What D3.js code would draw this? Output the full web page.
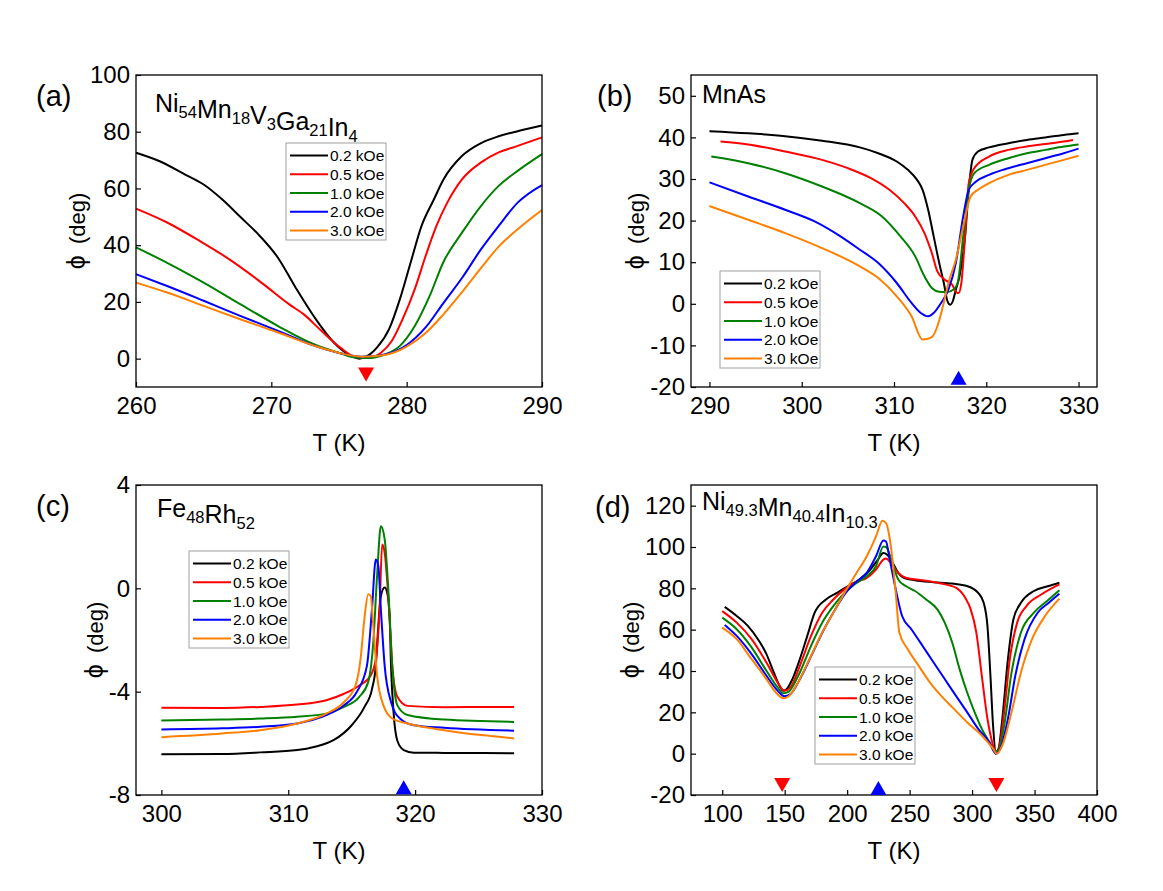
<!DOCTYPE html>
<html>
<head>
<meta charset="utf-8">
<script src="https://cdn.jsdelivr.net/npm/d3@7"></script>
<style>
body { margin: 0; background: #fff; }
text { font-family: "Liberation Sans", Arial, sans-serif; fill: #000; }
</style>
</head>
<body>
<svg id="chart" width="1163" height="891"></svg>
<script>
// field labels + colours, same for every panel
var fields = ["0.2 kOe", "0.5 kOe", "1.0 kOe", "2.0 kOe", "3.0 kOe"];
var colors = ["#000000", "#ff0000", "#008000", "#0000ff", "#ff8000"];

// (a) Ni54Mn18V3Ga21In4 : [T (K), phi (deg)]
var phiA = [
	[[260,72.6],[261.75,69.6],[263.6,65],[265,61.4],[266.4,56],[267.7,50],[269.1,43.5],[270.5,35.5],[271.8,25],[273.2,14.5],[274.6,5.8],[275.7,1.5],[276.5,0],[277,0.7],[277.8,3.9],[278.7,10.4],[279.5,21],[280.3,34],[281.1,46.8],[282,56],[282.7,63],[284.1,71.5],[285.5,76],[286.8,78.4],[288.2,80.2],[290,82.2]],
	[[260,52.9],[262.3,48],[264.7,41.5],[266.9,35],[269.1,27.4],[270.2,23.3],[271.3,19.2],[272.4,15.6],[273.7,9.8],[275.1,3.9],[276.2,0.7],[277.3,0.4],[278.1,2.1],[278.9,6.2],[279.7,13.9],[280.6,24.5],[281.4,36.2],[282.2,46.8],[283,55],[284.1,63.3],[285.5,69.2],[286.8,72.7],[288.2,75],[290,78]],
	[[260,39.2],[262.3,33.8],[265,26.8],[267.7,19.2],[270.5,11.5],[273.2,5],[275.1,1.9],[276.2,0.4],[277.3,0.2],[278.4,1.5],[279.5,4.5],[280.6,11.5],[281.7,22.1],[282.7,33.9],[284.1,44.5],[285.5,53.9],[286.8,60.9],[288.2,66.2],[290,72.1]],
	[[260,29.8],[262.3,25.6],[265,20.4],[267.7,15.1],[270.5,9.8],[273.2,4.5],[275.1,1.9],[276.7,0.7],[278.4,1.5],[280,4.8],[281.4,11],[282.7,19.5],[284.1,28.5],[285.5,38.6],[286.8,46.8],[288.2,55],[290,61.2]],
	[[260,26.8],[262.3,23.3],[265,18.6],[267.7,13.9],[270.5,9.2],[273.2,4.5],[275.1,1.9],[276.7,0.7],[278.4,1.3],[280,4.2],[281.4,9],[282.7,15.5],[284.1,23.5],[285.5,32],[286.8,39.5],[288.2,45.6],[290,52.4]]
];

// (b) MnAs
var phiB = [
	[[290,41.5],[294.2,41],[298.2,40.3],[302.2,39.2],[306.3,37.6],[308.3,36.2],[310.3,34.2],[311.5,32.2],[312.5,29.8],[313.1,27.4],[313.7,22.6],[314.3,16.2],[314.9,9.8],[315.4,5],[315.8,0.6],[316.1,-0.2],[316.4,0.8],[316.7,3.4],[317.1,6.6],[317.7,16.2],[318.1,27.4],[318.5,34.6],[319.1,36.6],[320.3,37.6],[322.4,38.6],[324.4,39.4],[326.4,40],[328.4,40.6],[330,41]],
	[[291.2,39],[294.2,38.3],[298.2,36.6],[302.2,34.6],[305,32.6],[307.5,30.2],[309.5,27.4],[311.1,24.2],[312.3,21],[313.3,17],[314.1,12.2],[314.7,7.8],[315.5,5.8],[316.3,4.6],[316.8,2.7],[317,2.6],[317.3,5],[317.7,16.2],[318.1,29],[318.7,32.6],[320.3,35.4],[322.4,37],[324.4,37.8],[326.4,38.4],[328.4,39],[329.4,39.4]],
	[[290.2,35.4],[294.2,33.8],[298.2,31.4],[302.2,28.2],[306.3,24.2],[308.7,21],[310.7,16.2],[312.3,11.4],[313.3,6.6],[314.1,3.8],[314.9,2.9],[315.7,2.8],[316.5,3.5],[316.9,5],[317.5,16.2],[318.1,27.4],[318.7,31.4],[320.3,33.4],[322.4,35],[324.4,36.2],[326.4,37],[328.4,37.8],[330,38.3]],
	[[290,29.2],[294.2,25.8],[298.2,22.6],[301.4,19.8],[304.2,16.2],[306.3,13],[308.3,9.8],[310.3,5],[311.9,0.2],[312.9,-2.2],[313.7,-3],[314.3,-2.2],[315.1,0.2],[315.9,3.4],[316.7,9.8],[317.5,21],[318.1,27.4],[318.9,29.4],[320.3,31],[322.4,32.6],[324.4,33.8],[326.4,35],[328.4,36.2],[330,37.3]],
	[[290,23.5],[294.2,20.2],[298.2,17],[302.2,13.4],[306.3,9],[308.3,6.2],[310.3,1.8],[311.9,-3],[313.1,-8.6],[314.1,-8],[314.7,-5.4],[315.3,-0.6],[315.9,5],[316.7,10.6],[317.5,18.6],[318.3,25.8],[319.1,27.4],[320.3,29],[322.4,31],[324.4,32.2],[326.4,33.4],[328.4,34.6],[330,35.6]]
];

// (c) Fe48Rh52
var phiC = [
	[[300,-6.42],[304.8,-6.41],[307.8,-6.35],[310.7,-6.26],[312.1,-6.13],[313.6,-5.87],[315,-5.3],[316,-4.6],[316.6,-3.9],[316.9,-3],[317.1,-1.45],[317.3,-0.3],[317.6,0.03],[317.8,-0.17],[318,-1.2],[318.1,-3],[318.3,-4.8],[318.6,-5.9],[319.1,-6.26],[319.9,-6.36],[322.3,-6.37],[327.8,-6.38]],
	[[300,-4.62],[304.8,-4.63],[307.8,-4.59],[310.7,-4.5],[313,-4.33],[314.4,-4.08],[315.6,-3.76],[316.5,-3.37],[316.9,-2.73],[317.2,-0.8],[317.4,1.7],[317.6,1.37],[317.9,-0.42],[318.2,-3],[318.6,-4.2],[319.4,-4.55],[322.3,-4.6],[327.8,-4.59]],
	[[300,-5.12],[304.8,-5.08],[307.8,-5.04],[310.7,-4.97],[313,-4.85],[314.4,-4.59],[315.6,-4.2],[316.3,-3.63],[316.7,-2.1],[317,0.47],[317.3,2.4],[317.6,1.9],[317.9,-0.17],[318.2,-3],[318.6,-4.53],[319.4,-4.9],[322.3,-5.08],[327.8,-5.17]],
	[[300,-5.46],[304.8,-5.42],[307.8,-5.36],[310.7,-5.23],[313,-4.91],[314.4,-4.53],[315.4,-4.01],[316.2,-3],[316.6,-0.8],[316.9,1.12],[317.1,0.86],[317.3,-0.8],[317.6,-3],[318.1,-4.4],[318.8,-5.04],[319.9,-5.3],[322.3,-5.4],[327.8,-5.51]],
	[[300,-5.76],[304.8,-5.62],[307.8,-5.49],[310.7,-5.23],[313,-4.85],[314.4,-4.4],[315.3,-3.76],[315.7,-2.73],[316,-1.19],[316.3,-0.23],[316.5,-0.29],[316.7,-1.45],[317,-3.37],[317.5,-4.53],[318.2,-5.04],[319.4,-5.23],[322.3,-5.49],[325.2,-5.68],[327.8,-5.81]]
];

// (d) Ni49.3Mn40.4In10.3
var phiD = [
	[[102,71],[111.6,66.6],[120.5,61.8],[129.4,54.6],[135.4,48.2],[141.3,39.3],[145.8,32.9],[148.8,30.5],[151.7,31.3],[156.2,36.1],[162.1,45.7],[168.1,57],[174,68.2],[183,74.6],[191.9,77.8],[200.8,81.1],[209.7,84.3],[218.6,89.1],[224.6,93.9],[229,97.1],[232,96.3],[236.5,92.3],[240.9,87.5],[245.4,85.1],[254.3,83.9],[269.2,83],[284.1,82.3],[296,81.1],[304.9,77.8],[309.3,73],[312.3,61.8],[314.7,37.7],[316.8,13.6],[319.1,0.8],[321.2,2.4],[324.2,16.9],[328.7,45.7],[333.1,65],[339.1,73],[349.5,78.7],[361.4,81.1],[369.9,82.7]],
	[[100,69],[111.6,63.4],[123.5,55.4],[135.4,44.1],[144.3,34.5],[149.6,30.5],[154.7,32.1],[162.1,42.5],[171.1,57],[180,68.2],[188.9,74.6],[197.8,79.5],[206.7,83],[215.7,85.1],[223.1,89.1],[229,93.9],[231.1,94.4],[235,92.3],[240.9,87.5],[246.9,85.1],[260.3,83.9],[275.1,82.3],[287,80.3],[294.5,75.4],[298.9,69.8],[303.4,58.6],[307.8,37.7],[312.3,16.9],[316.8,4],[319.1,0],[322.1,4],[325.7,20.1],[330.2,45.7],[336.1,63.4],[343.5,71.4],[355.4,77],[369.9,81.9]],
	[[100,65.8],[111.6,60.2],[123.5,51.4],[135.4,40.1],[144.3,32.1],[148.8,29.2],[153.2,30],[162.1,39.3],[171.1,52.2],[180,63.4],[188.9,71.4],[197.8,77.8],[206.7,82.3],[215.7,85.9],[223.1,90.7],[229,100.3],[231.1,100],[235,94.7],[240.9,84.3],[246.9,81.1],[254.3,78.7],[263.2,74.6],[272.2,69.8],[278.1,63.4],[284.1,53.8],[290,40.9],[296,29.7],[302,20.1],[307.8,12],[313.8,5.6],[318.3,0.8],[321.2,1.6],[325.7,13.6],[331.6,39.3],[339.1,58.6],[349.5,68.2],[361.4,74.6],[369.9,79.1]],
	[[102,62.3],[111.6,57],[123.5,48.2],[135.4,37.7],[144.3,30.5],[149.6,27.8],[154.7,28.9],[163.6,37.7],[172.6,49],[181.5,60.2],[190.4,69.8],[197.8,77],[206.7,82.7],[215.7,87.5],[223.1,95.5],[229,103.2],[231.1,102.7],[234.1,93.9],[239.5,77.8],[244,66.6],[251.4,60.2],[260.3,52.2],[269.2,44.1],[278.1,36.1],[287,28.1],[296,20.1],[304.9,12],[313.8,5.6],[319.1,0],[322.7,2.4],[328.7,16.9],[334.6,37.7],[342,55.4],[352.5,68.2],[361.4,73],[369.9,77.4]],
	[[100,61],[111.6,55.4],[123.5,45.7],[135.4,36.1],[142.8,29.7],[148.8,26.8],[153.2,27.8],[162.1,36.1],[171.1,47.4],[180,58.6],[188.9,68.2],[197.8,77.8],[206.7,86.7],[215.7,95.5],[223.1,105.1],[228.2,112.7],[231.1,111.6],[235,100.3],[238.9,77.8],[241.8,58.6],[248.4,50.6],[257.3,42.5],[266.2,34.5],[275.1,28.1],[284.1,22.5],[296,15.2],[307.8,8.8],[316.8,2.4],[319.7,0],[324.2,4],[331.6,20.1],[339.1,39.3],[348,55.4],[358.4,66.6],[369.9,75]]
];

// transition markers: [T, phi]
var downA = [[277, -5.6]];
var upB = [[317, -17.8]];
var upC = [[319.1, -7.7]];
var downD = [[148, -15.2], [319.5, -15.2]];
var upD = [[225, -16.6]];

var svg = d3.select("#chart");

function fmt(d) { return String(d); }

function drawPanel(p) {
	var x = d3.scaleLinear().domain(p.xDom).range([p.box[0], p.box[2]]);
	var y = d3.scaleLinear().domain(p.yDom).range([p.box[3], p.box[1]]);
	var g = svg.append("g");

	// curves
	var line = d3.line().x(function(d) { return x(d[0]); }).y(function(d) { return y(d[1]); })
		.curve(d3.curveMonotoneX);
	g.selectAll("path.curve").data(p.series).enter().append("path")
		.attr("class", "curve")
		.attr("d", line)
		.attr("fill", "none")
		.attr("stroke", function(d, i) { return colors[i]; })
		.attr("stroke-width", 2)
		.attr("stroke-linejoin", "round");

	// axes, ticks inward
	var xa = g.append("g").attr("transform", "translate(0," + p.box[3] + ")");
	xa.call(d3.axisBottom(x).tickValues(p.xMinor).tickSize(-3).tickFormat(""));
	xa.call(d3.axisBottom(x).tickValues(p.xTicks).tickSize(-5).tickPadding(10).tickFormat(fmt));
	var ya = g.append("g").attr("transform", "translate(" + p.box[0] + ",0)");
	ya.call(d3.axisLeft(y).tickValues(p.yMinor).tickSize(-3).tickFormat(""));
	ya.call(d3.axisLeft(y).tickValues(p.yTicks).tickSize(-5).tickPadding(6).tickFormat(fmt));
	g.selectAll(".domain").remove();
	g.selectAll(".tick line").attr("stroke", "#000").attr("stroke-width", 1.2);
	g.selectAll(".tick text").style("font-size", "24px").style("font-family", "Liberation Sans, Arial, sans-serif").attr("fill", "#000");

	// frame
	g.append("rect")
		.attr("x", p.box[0]).attr("y", p.box[1])
		.attr("width", p.box[2] - p.box[0]).attr("height", p.box[3] - p.box[1])
		.attr("fill", "none").attr("stroke", "#000").attr("stroke-width", 1.3);

	// markers
	var tri = 8;
	function triPath(d, up) {
		var cx = x(d[0]), cy = y(d[1]);
		return up ? "M" + (cx - tri) + "," + (cy + 7) + "L" + (cx + tri) + "," + (cy + 7) + "L" + cx + "," + (cy - 7) + "Z"
			: "M" + (cx - tri) + "," + (cy - 7) + "L" + (cx + tri) + "," + (cy - 7) + "L" + cx + "," + (cy + 7) + "Z";
	}
	(p.down || []).forEach(function(d) {
		g.append("path").attr("d", triPath(d, false)).attr("fill", "#ff0000");
	});
	(p.up || []).forEach(function(d) {
		g.append("path").attr("d", triPath(d, true)).attr("fill", "#0000ff");
	});

	// axis titles
	g.append("text")
		.attr("x", (p.box[0] + p.box[2]) / 2).attr("y", p.box[3] + 64)
		.attr("text-anchor", "middle").style("font-size", "24px")
		.text("T (K)");
	var yt = g.append("text")
		.attr("transform", "translate(" + p.yTitleX + "," + ((p.box[1] + p.box[3]) / 2) + ") rotate(-90)")
		.attr("text-anchor", "middle").attr("dy", "0.35em").style("font-size", "22px");
	yt.append("tspan").style("font-size", "25px").text("\u03d5");
	yt.append("tspan").attr("dx", 5).text(" (deg)");

	// panel tag + compound name
	g.append("text").attr("x", p.tag[1]).attr("y", p.tag[2]).style("font-size", "29px").text(p.tag[0]);
	var nm = g.append("text").attr("x", p.nameXY[0]).attr("y", p.nameXY[1]).style("font-size", "25px");
	p.name.forEach(function(part) {
		var sub = part[1];
		nm.append("tspan")
			.attr("dy", sub ? 6 : 0)
			.style("font-size", sub ? "16.5px" : "25px")
			.text(part[0]);
		if (sub) nm.append("tspan").attr("dy", -6).text("");
	});

	// legend
	var lg = g.append("g").attr("transform", "translate(" + p.legend[0] + "," + p.legend[1] + ")");
	lg.append("rect").attr("width", 100).attr("height", 97)
		.attr("fill", "#fff").attr("stroke", "#a0a0a0").attr("stroke-width", 1);
	fields.forEach(function(f, i) {
		var cy = 12.5 + i * 18.75;
		lg.append("line").attr("x1", 4).attr("x2", 42).attr("y1", cy).attr("y2", cy)
			.attr("stroke", colors[i]).attr("stroke-width", 2);
		lg.append("text").attr("x", 44).attr("y", cy).attr("dy", "0.36em")
			.style("font-size", "15.5px").text(f);
	});
}

drawPanel({
	box: [136, 75, 542, 387], xDom: [260, 290], yDom: [-10, 100],
	xTicks: d3.range(260, 291, 10), xMinor: d3.range(260, 290.1, 2.5),
	yTicks: d3.range(0, 101, 20), yMinor: d3.range(-10, 101, 10),
	series: phiA, down: downA, yTitleX: 77, legend: [286, 143],
	tag: ["(a)", 36, 106], nameXY: [155, 112],
	name: [["Ni", 0], ["54", 1], ["Mn", 0], ["18", 1], ["V", 0], ["3", 1], ["Ga", 0], ["21", 1], ["In", 0], ["4", 1]]
});
drawPanel({
	box: [691, 75, 1097, 387], xDom: [288, 332], yDom: [-20, 55],
	xTicks: d3.range(290, 331, 10), xMinor: d3.range(290, 332, 2.5),
	yTicks: d3.range(-20, 51, 10), yMinor: d3.range(-20, 55.1, 5),
	series: phiB, up: upB, yTitleX: 636, legend: [720, 271],
	tag: ["(b)", 597, 106], nameXY: [702, 103],
	name: [["MnAs", 0]]
});
drawPanel({
	box: [136, 485, 542, 795], xDom: [298, 330], yDom: [-8, 4],
	xTicks: d3.range(300, 331, 10), xMinor: d3.range(300, 330.1, 2.5),
	yTicks: [-8, -4, 0, 4], yMinor: d3.range(-8, 4.1, 2),
	series: phiC, up: upC, yTitleX: 95, legend: [189, 551],
	tag: ["(c)", 36, 516], nameXY: [157, 517],
	name: [["Fe", 0], ["48", 1], ["Rh", 0], ["52", 1]]
});
drawPanel({
	box: [691, 485, 1097, 795], xDom: [75, 400], yDom: [-20, 130],
	xTicks: d3.range(100, 401, 50), xMinor: d3.range(75, 400.1, 25),
	yTicks: d3.range(-20, 121, 20), yMinor: d3.range(-20, 130.1, 10),
	series: phiD, down: downD, up: upD, yTitleX: 631, legend: [815, 667],
	tag: ["(d)", 595, 517], nameXY: [702, 510],
	name: [["Ni", 0], ["49.3", 1], ["Mn", 0], ["40.4", 1], ["In", 0], ["10.3", 1]]
});
</script>
</body>
</html>
